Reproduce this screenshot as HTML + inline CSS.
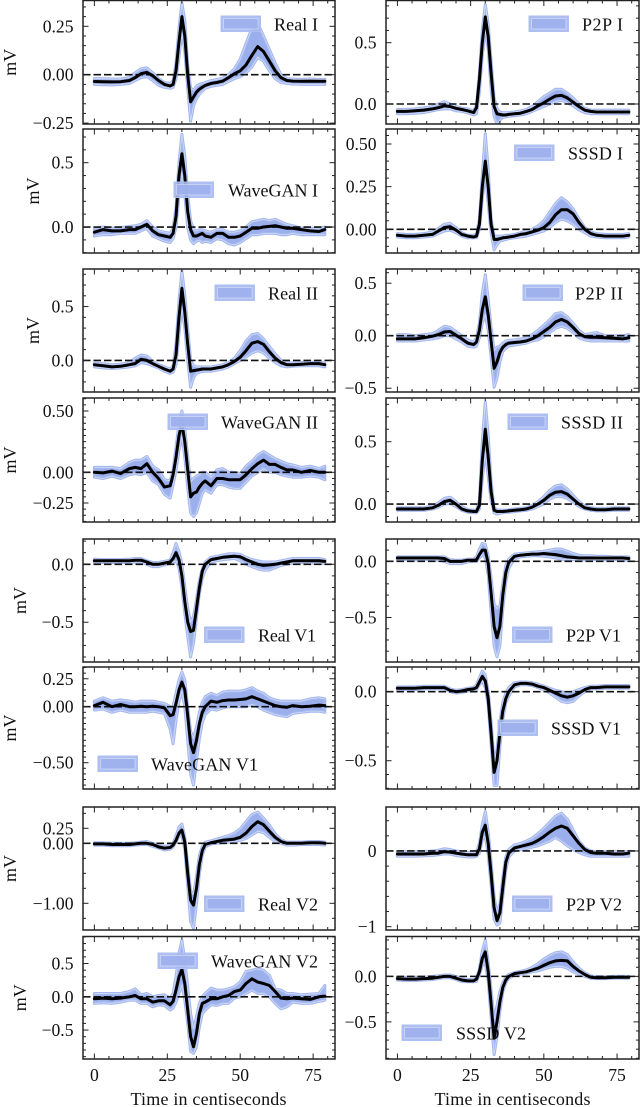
<!DOCTYPE html>
<html lang="en">
<head>
<meta charset="utf-8">
<title>ECG lead comparison</title>
<style>
html,body{margin:0;padding:0;background:#fff;width:640px;height:1107px;overflow:hidden}
svg{display:block}
text{font-family:"Liberation Serif",serif;fill:#111}
</style>
</head>
<body>
<svg id="figure" xmlns="http://www.w3.org/2000/svg" width="640" height="1107" viewBox="0 0 640 1107"></svg>
<script>
const times = [0,3,6,9,12,14,16,18,20,22,24,26,27,28,29,30,31,32,33,34,35,36,37,38,40,42,44,46,48,50,52,54,56,58,60,62,64,66,68,71,74,77,79];
const xTicks = [0,25,50,75];

const realIMean = [-.035,-.036,-.037,-.036,-.03,-.015,.005,.012,-.005,-.03,-.05,-.058,-.05,.02,.17,.30,.2,.0,-.14,-.115,-.09,-.075,-.065,-.055,-.045,-.04,-.033,-.015,.005,.02,.05,.10,.145,.12,.07,.02,-.015,-.03,-.033,-.034,-.033,-.034,-.034];
const realIUpper = [-.02,-.02,-.022,-.022,-.015,.01,.03,.035,.01,-.02,-.04,-.045,-.03,.06,.24,.37,.28,.05,-.07,-.08,-.06,-.05,-.045,-.04,-.03,-.025,-.018,.0,.03,.08,.16,.24,.265,.2,.13,.06,.0,-.02,-.022,-.024,-.022,-.024,-.024];
const realILower = [-.05,-.052,-.053,-.05,-.045,-.03,-.015,-.01,-.03,-.055,-.065,-.07,-.065,-.02,.09,.22,.12,-.07,-.24,-.16,-.125,-.1,-.085,-.07,-.06,-.055,-.05,-.035,-.02,-.01,.01,.04,.09,.07,.02,-.02,-.04,-.045,-.048,-.05,-.05,-.05,-.05];

const waveganIMean = [-.04,-.02,-.03,-.03,-.02,-.02,.0,.02,-.03,-.06,-.07,-.08,-.05,.08,.4,.57,.4,.12,-.02,-.07,-.07,-.06,-.05,-.07,-.08,-.05,-.05,-.08,-.08,-.07,-.04,-.01,-.01,.0,.005,.01,.0,-.01,-.01,-.02,-.03,-.035,-.02];
const waveganIUpper = [-.01,.0,-.01,-.005,.005,.01,.02,.05,.0,-.03,-.04,-.05,-.01,.15,.5,.72,.55,.25,.05,-.02,-.03,-.02,-.02,-.03,-.04,-.02,-.02,-.04,-.04,-.03,.0,.04,.05,.06,.05,.06,.04,.02,.01,-.01,-.01,-.01,.0];
const waveganILower = [-.07,-.06,-.06,-.05,-.05,-.05,-.03,-.01,-.07,-.09,-.11,-.12,-.09,.0,.25,.42,.25,.0,-.1,-.13,-.11,-.1,-.12,-.11,-.12,-.09,-.1,-.13,-.14,-.12,-.09,-.06,-.06,-.05,-.05,-.05,-.06,-.06,-.05,-.06,-.06,-.06,-.06];

const realIIMean = [-.04,-.05,-.06,-.055,-.04,-.03,.01,.0,-.03,-.055,-.08,-.1,-.08,.05,.4,.67,.45,.15,-.1,-.095,-.09,-.085,-.08,-.08,-.08,-.07,-.06,-.04,-.01,.03,.09,.16,.175,.15,.08,.02,-.02,-.04,-.04,-.035,-.03,-.03,-.04];
const realIIUpper = [-.025,-.03,-.04,-.035,-.02,.02,.05,.04,-.01,-.04,-.06,-.08,-.05,.15,.55,.83,.6,.3,.0,-.05,-.06,-.06,-.06,-.06,-.06,-.05,-.04,-.02,.02,.09,.18,.24,.25,.2,.13,.06,.0,-.02,-.025,-.02,-.015,-.02,-.025];
const realIILower = [-.06,-.07,-.075,-.07,-.06,-.05,-.02,-.03,-.05,-.07,-.1,-.12,-.11,-.04,.25,.5,.3,.0,-.25,-.16,-.12,-.11,-.105,-.1,-.1,-.09,-.08,-.06,-.03,.0,.03,.07,.09,.07,.02,-.02,-.05,-.06,-.055,-.05,-.05,-.05,-.06];

const waveganIIMean = [.0,-.005,.01,-.01,.03,.04,.03,.07,.0,-.05,-.12,-.11,-.02,.12,.3,.4,.25,.02,-.2,-.17,-.16,-.12,-.09,-.07,-.11,-.05,-.05,-.06,-.06,-.06,-.02,.03,.07,.1,.065,.065,.04,.02,.02,.0,.015,.0,.0];
const waveganIIUpper = [.04,.04,.04,.03,.08,.1,.1,.13,.05,.02,-.06,-.07,.02,.2,.4,.5,.35,.13,-.08,-.05,-.03,-.02,.0,.0,-.04,.02,.03,.0,.0,-.01,.05,.09,.14,.17,.14,.11,.09,.07,.06,.04,.05,.03,.05];
const waveganIILower = [-.04,-.05,-.03,-.05,-.02,-.01,-.02,.0,-.07,-.1,-.18,-.21,-.1,.02,.18,.3,.12,-.12,-.33,-.36,-.33,-.25,-.17,-.14,-.17,-.1,-.1,-.12,-.13,-.13,-.08,-.03,.0,.03,.0,.0,-.02,-.03,-.04,-.04,-.03,-.04,-.06];

const realV1Mean = [.03,.03,.03,.03,.03,.035,.035,.02,.0,.0,.01,.02,.05,.1,.04,-.1,-.32,-.5,-.58,-.57,-.38,-.2,-.06,.0,.04,.05,.06,.065,.07,.065,.04,.02,.0,-.01,-.005,.0,.01,.02,.03,.03,.03,.03,.025];
const realV1Upper = [.045,.04,.04,.04,.045,.05,.05,.03,.015,.015,.025,.035,.1,.18,.11,.0,-.2,-.38,-.5,-.45,-.3,-.14,-.04,.02,.06,.07,.08,.09,.09,.085,.06,.04,.03,.02,.02,.02,.03,.04,.05,.05,.05,.05,.04];
const realV1Lower = [.015,.015,.015,.015,.015,.02,.02,.0,-.02,-.02,-.005,.005,.02,.03,-.03,-.2,-.42,-.62,-.8,-.68,-.46,-.25,-.12,-.05,.02,.03,.04,.045,.05,.03,.0,-.02,-.04,-.05,-.05,-.03,-.01,.0,.01,.015,.01,.01,.01];

const waveganV1Mean = [.01,.04,.0,.02,.0,.0,.005,.0,.005,.0,-.01,-.08,-.07,.03,.15,.22,.15,-.08,-.33,-.41,-.3,-.15,-.05,.0,.05,.04,.055,.06,.06,.065,.07,.09,.07,.05,.03,.01,.0,-.005,.01,.0,.005,.015,.01];
const waveganV1Upper = [.05,.08,.05,.06,.05,.04,.05,.05,.05,.04,.03,.0,.0,.12,.24,.31,.24,.0,-.22,-.28,-.18,-.05,.04,.09,.12,.1,.13,.14,.14,.14,.15,.17,.14,.12,.08,.06,.05,.05,.05,.05,.07,.08,.07];
const waveganV1Lower = [-.03,-.02,-.05,-.03,-.05,-.05,-.05,-.05,-.04,-.05,-.06,-.2,-.33,-.12,.05,.14,.0,-.3,-.6,-.7,-.48,-.28,-.14,-.07,-.02,-.03,-.01,.0,.0,.0,.0,.02,.0,-.03,-.05,-.07,-.08,-.09,-.06,-.05,-.04,-.04,-.05];

const realV2Mean = [-.01,-.01,-.02,-.02,-.02,-.01,.0,.0,-.02,-.06,-.08,-.07,-.03,.05,.17,.22,.02,-.5,-.95,-1.03,-.75,-.35,-.12,-.02,.01,.03,.05,.06,.07,.1,.17,.28,.36,.31,.2,.1,.03,.0,.0,.0,.01,.01,.0];
const realV2Upper = [.01,.01,.0,.0,.0,.01,.02,.03,.0,-.04,-.05,-.04,.0,.12,.27,.32,.1,-.35,-.8,-.85,-.55,-.2,-.05,.02,.04,.07,.1,.13,.17,.24,.36,.48,.52,.42,.3,.16,.06,.02,.02,.02,.03,.03,.02];
const realV2Lower = [-.03,-.03,-.04,-.04,-.04,-.03,-.02,-.02,-.05,-.08,-.11,-.1,-.06,.02,.12,.12,-.1,-.7,-1.3,-1.42,-1.0,-.5,-.2,-.06,-.01,.0,.01,.02,.03,.05,.08,.14,.2,.18,.1,.03,.0,-.03,-.03,-.02,-.02,-.02,-.03];

const waveganV2Mean = [-.03,-.02,-.03,-.02,.0,.02,-.03,-.03,-.08,-.06,-.06,-.12,-.07,.1,.3,.41,.2,-.2,-.6,-.75,-.55,-.25,-.1,-.08,-.03,-.03,.0,.02,.08,.1,.2,.27,.22,.2,.17,.08,-.02,-.03,-.02,-.03,-.04,.0,.01];
const waveganV2Upper = [.05,.05,.05,.05,.08,.12,.03,.05,.0,.02,.03,-.02,.05,.3,.65,.85,.55,.15,-.25,-.48,-.3,-.1,.0,.05,.13,.1,.1,.12,.15,.22,.38,.4,.42,.4,.32,.12,.1,.05,.05,.03,.04,.05,.17];
const waveganV2Lower = [-.1,-.09,-.1,-.08,-.05,-.05,-.1,-.1,-.15,-.12,-.13,-.2,-.17,-.08,.05,.18,-.05,-.4,-.82,-.85,-.75,-.45,-.25,-.2,-.12,-.13,-.1,-.1,-.02,.0,.05,.1,.05,.05,.0,-.1,-.18,-.15,-.08,-.1,-.1,-.07,-.05];

const p2pIMean = [-.06,-.06,-.055,-.05,-.04,-.03,-.015,-.02,-.035,-.045,-.055,-.07,-.03,.2,.5,.71,.55,.25,-.02,-.08,-.085,-.09,-.09,-.085,-.08,-.075,-.06,-.045,-.015,.01,.04,.065,.07,.05,.015,-.02,-.05,-.06,-.065,-.065,-.065,-.065,-.065];
const p2pIUpper = [-.045,-.045,-.04,-.03,-.02,.0,.02,.0,-.02,-.035,-.04,-.055,-.01,.25,.6,.81,.65,.35,.05,-.04,-.065,-.07,-.07,-.07,-.065,-.055,-.045,-.02,.02,.06,.09,.12,.12,.09,.05,.0,-.035,-.05,-.05,-.05,-.05,-.05,-.05];
const p2pILower = [-.08,-.08,-.075,-.07,-.055,-.045,-.04,-.04,-.055,-.06,-.07,-.09,-.08,.1,.4,.6,.45,.12,-.1,-.16,-.13,-.11,-.105,-.1,-.095,-.09,-.08,-.06,-.04,-.02,.0,.02,.03,.01,-.015,-.05,-.07,-.08,-.08,-.08,-.08,-.08,-.08];

const sssdIMean = [-.035,-.04,-.04,-.035,-.03,-.01,.01,.015,-.005,-.03,-.04,-.045,-.04,.03,.25,.40,.25,.03,-.06,-.06,-.055,-.05,-.048,-.045,-.04,-.03,-.025,-.015,-.005,.01,.04,.085,.115,.115,.09,.04,.0,-.025,-.035,-.04,-.04,-.04,-.035];
const sssdIUpper = [-.025,-.03,-.03,-.025,-.015,.005,.03,.035,.01,-.02,-.035,-.035,-.03,.06,.32,.56,.35,.06,-.04,-.04,-.04,-.04,-.035,-.035,-.03,-.02,-.01,.0,.02,.05,.1,.15,.185,.16,.12,.06,.01,-.015,-.025,-.03,-.03,-.03,-.025];
const sssdILower = [-.045,-.05,-.05,-.045,-.04,-.025,-.01,-.005,-.02,-.04,-.05,-.05,-.05,.0,.18,.33,.15,-.02,-.12,-.09,-.07,-.065,-.06,-.055,-.05,-.045,-.04,-.03,-.02,-.01,.01,.04,.06,.05,.03,.0,-.02,-.04,-.045,-.05,-.05,-.05,-.045];

const p2pIIMean = [-.03,-.03,-.03,-.02,-.005,.01,.035,.04,.005,-.03,-.07,-.085,-.06,.05,.25,.37,.2,-.05,-.31,-.25,-.16,-.11,-.085,-.07,-.065,-.06,-.05,-.03,.0,.04,.08,.13,.155,.13,.08,.02,-.01,-.015,-.015,-.02,-.025,-.03,-.02];
const p2pIIUpper = [.01,.01,.0,.01,.02,.05,.09,.08,.04,.0,-.04,-.06,-.02,.12,.4,.58,.35,.08,-.14,-.11,-.1,-.07,-.05,-.045,-.04,-.03,-.02,.01,.05,.1,.15,.21,.22,.18,.12,.05,.01,.02,.03,.0,.0,.0,.01];
const p2pIILower = [-.05,-.05,-.05,-.04,-.03,-.02,.0,.0,-.03,-.06,-.1,-.11,-.1,-.02,.12,.2,.05,-.2,-.49,-.4,-.25,-.15,-.12,-.1,-.09,-.08,-.07,-.05,-.04,-.01,.03,.07,.09,.07,.03,-.02,-.04,-.05,-.05,-.05,-.05,-.05,-.05];

const sssdIIMean = [-.04,-.04,-.04,-.04,-.03,-.01,.02,.03,.0,-.04,-.055,-.06,-.06,-.01,.35,.6,.38,.1,-.05,-.06,-.06,-.06,-.058,-.055,-.05,-.045,-.04,-.025,.0,.03,.07,.095,.1,.08,.04,.0,-.03,-.04,-.045,-.045,-.04,-.04,-.04];
const sssdIIUpper = [-.03,-.03,-.03,-.03,-.015,.01,.045,.055,.02,-.02,-.045,-.05,-.05,.03,.5,.82,.55,.18,-.03,-.045,-.05,-.05,-.05,-.045,-.04,-.035,-.03,-.01,.02,.06,.11,.145,.155,.12,.07,.02,-.015,-.03,-.035,-.035,-.03,-.03,-.03];
const sssdIILower = [-.05,-.05,-.05,-.05,-.04,-.025,.0,.005,-.02,-.05,-.065,-.07,-.07,-.04,.2,.42,.22,.03,-.07,-.08,-.075,-.07,-.065,-.065,-.06,-.055,-.05,-.04,-.02,.0,.04,.06,.06,.045,.015,-.02,-.04,-.05,-.055,-.055,-.05,-.05,-.05];

const p2pV1Mean = [.03,.03,.03,.03,.03,.03,.025,.0,.0,.0,.01,.01,.015,.06,.1,.1,-.02,-.28,-.58,-.68,-.58,-.3,-.1,-.01,.045,.055,.06,.065,.065,.07,.065,.06,.05,.04,.035,.03,.03,.03,.03,.03,.03,.03,.025];
const p2pV1Upper = [.04,.04,.04,.04,.04,.04,.04,.015,.01,.01,.02,.02,.04,.11,.16,.15,.05,-.15,-.38,-.42,-.4,-.2,-.04,.02,.065,.07,.075,.08,.085,.09,.1,.11,.11,.09,.07,.055,.05,.05,.045,.045,.04,.04,.04];
const p2pV1Lower = [.015,.015,.015,.015,.015,.01,.0,-.02,-.02,-.02,-.005,.0,.0,.03,.06,.03,-.12,-.45,-.75,-.85,-.75,-.42,-.18,-.06,.02,.04,.045,.05,.05,.045,.04,.03,.02,.015,.015,.015,.015,.015,.015,.015,.015,.015,.01];

const sssdV1Mean = [.025,.025,.025,.03,.03,.03,.03,.01,.0,.005,.015,.02,.03,.07,.11,.08,-.05,-.3,-.585,-.5,-.3,-.14,-.05,.0,.05,.06,.06,.055,.04,.03,.01,-.01,-.03,-.04,-.03,-.01,.015,.03,.03,.035,.035,.035,.035];
const sssdV1Upper = [.035,.035,.035,.04,.04,.04,.04,.02,.01,.015,.025,.03,.05,.1,.15,.12,.0,-.22,-.5,-.42,-.22,-.08,-.01,.03,.065,.07,.07,.065,.055,.04,.025,.01,.0,-.01,.0,.015,.03,.04,.04,.045,.045,.045,.045];
const sssdV1Lower = [.015,.015,.015,.02,.02,.02,.02,.0,-.01,-.005,.005,.01,.015,.05,.08,.03,-.1,-.38,-.68,-.68,-.4,-.2,-.08,-.03,.035,.05,.05,.045,.03,.015,-.01,-.04,-.07,-.08,-.07,-.03,.0,.02,.02,.025,.025,.025,.025];

const p2pV2Mean = [-.04,-.04,-.04,-.04,-.03,-.03,-.01,-.015,-.03,-.04,-.05,-.05,-.05,.03,.25,.34,.1,-.3,-.75,-.92,-.82,-.48,-.15,-.03,.04,.06,.08,.1,.14,.19,.25,.3,.33,.3,.2,.1,.02,-.02,-.03,-.03,-.04,-.04,-.03];
const p2pV2Upper = [-.01,-.01,-.01,-.01,.0,.01,.03,.02,.0,-.01,-.02,-.02,-.01,.1,.35,.52,.25,-.15,-.6,-.82,-.7,-.35,-.08,.02,.08,.1,.13,.17,.23,.3,.38,.46,.5,.42,.28,.13,.04,.0,-.01,-.01,-.01,-.01,-.01];
const p2pV2Lower = [-.07,-.07,-.07,-.065,-.06,-.05,-.04,-.04,-.06,-.07,-.08,-.08,-.07,-.03,.15,.2,-.05,-.45,-.9,-.98,-.95,-.6,-.25,-.08,.0,.02,.03,.05,.07,.1,.13,.18,.13,.07,.02,-.02,-.05,-.07,-.07,-.07,-.07,-.07,-.07];

const sssdV2Mean = [-.025,-.03,-.03,-.025,-.02,-.01,.0,.0,-.02,-.04,-.05,-.05,-.03,.05,.2,.27,.05,-.3,-.68,-.5,-.28,-.12,-.04,.0,.03,.04,.05,.07,.09,.12,.15,.17,.175,.17,.11,.06,.02,-.01,-.015,-.015,-.01,-.01,-.01];
const sssdV2Upper = [-.01,-.01,-.01,-.01,.0,.005,.015,.015,.0,-.02,-.035,-.035,-.02,.08,.28,.4,.15,-.15,-.48,-.32,-.17,-.07,-.01,.02,.04,.055,.07,.1,.14,.19,.23,.26,.27,.24,.16,.09,.04,.005,-.005,-.005,.0,.0,.0];
const sssdV2Lower = [-.04,-.045,-.045,-.04,-.035,-.025,-.015,-.015,-.035,-.055,-.06,-.06,-.055,.02,.12,.15,-.05,-.45,-.86,-.66,-.38,-.17,-.07,-.02,.015,.025,.035,.05,.06,.08,.1,.11,.11,.09,.05,.025,.0,-.02,-.025,-.025,-.02,-.02,-.02];

const SVG_NS = 'http://www.w3.org/2000/svg';
const fig = document.getElementById('figure');
const xLim = [-3.9, 82.5];
const colLeft = [83, 386];
const colWidth = [252, 253];
const rowTop = [0.5, 129, 269, 398, 539, 667, 807, 936.5];
const rowBottom = [124, 253, 392, 522, 662, 789, 930, 1059];

const panels = [
  {label:'Real I',col:0,row:0,ymin:-.2546,ymax:.3833,ticks:[-.25,0,.25],dec:2,minor:.05,mean:realIMean,upper:realIUpper,lower:realILower,patch:[221,16],text:[274,44],unitX:10},
  {label:'WaveGAN I',col:0,row:1,ymin:-.202,ymax:.762,ticks:[0,.5],dec:1,minor:.1,mean:waveganIMean,upper:waveganIUpper,lower:waveganILower,patch:[174,182],text:[228,90],unitX:33},
  {label:'Real II',col:0,row:2,ymin:-.2935,ymax:.849,ticks:[0,.5],dec:1,minor:.1,mean:realIIMean,upper:realIIUpper,lower:realIILower,patch:[215,285],text:[268,50],unitX:33},
  {label:'WaveGAN II',col:0,row:3,ymin:-.405,ymax:.606,ticks:[-.25,0,.5],dec:2,minor:.05,mean:waveganIIMean,upper:waveganIIUpper,lower:waveganIILower,patch:[168,414],text:[221,97],unitX:10},
  {label:'Real V1',col:0,row:4,ymin:-.843,ymax:.218,ticks:[-.5,0],dec:1,minor:.1,mean:realV1Mean,upper:realV1Upper,lower:realV1Lower,patch:[204.5,627],text:[258,58],unitX:20},
  {label:'WaveGAN V1',col:0,row:5,ymin:-.735,ymax:.355,ticks:[-.5,0,.25],dec:2,minor:.05,mean:waveganV1Mean,upper:waveganV1Upper,lower:waveganV1Lower,patch:[98,756],text:[151,107],unitX:10},
  {label:'Real V2',col:0,row:6,ymin:-1.445,ymax:.605,ticks:[-1,0,.25],dec:2,minor:.25,mean:realV2Mean,upper:realV2Upper,lower:realV2Lower,patch:[204.5,896],text:[258,60],unitX:10},
  {label:'WaveGAN V2',col:0,row:7,ymin:-.935,ymax:.906,ticks:[-.5,0,.5],dec:1,minor:.1,mean:waveganV2Mean,upper:waveganV2Upper,lower:waveganV2Lower,patch:[158,953],text:[211,107],unitX:20},
  {label:'P2P I',col:1,row:0,ymin:-.163,ymax:.844,ticks:[0,.5],dec:1,minor:.1,mean:p2pIMean,upper:p2pIUpper,lower:p2pILower,patch:[529,16],text:[582,41]},
  {label:'SSSD I',col:1,row:1,ymin:-.139,ymax:.588,ticks:[0,.25,.5],dec:2,minor:.05,mean:sssdIMean,upper:sssdIUpper,lower:sssdILower,patch:[514.5,145],text:[568,55]},
  {label:'P2P II',col:1,row:2,ymin:-.536,ymax:.635,ticks:[-.5,0,.5],dec:1,minor:.1,mean:p2pIIMean,upper:p2pIIUpper,lower:p2pIILower,patch:[523,285],text:[575,48]},
  {label:'SSSD II',col:1,row:3,ymin:-.144,ymax:.851,ticks:[0,.5],dec:1,minor:.1,mean:sssdIIMean,upper:sssdIIUpper,lower:sssdIILower,patch:[508,414],text:[561,62]},
  {label:'P2P V1',col:1,row:4,ymin:-.896,ymax:.199,ticks:[-.5,0],dec:1,minor:.1,mean:p2pV1Mean,upper:p2pV1Upper,lower:p2pV1Lower,patch:[512.5,627],text:[566,55]},
  {label:'SSSD V1',col:1,row:5,ymin:-.705,ymax:.179,ticks:[-.5,0],dec:1,minor:.1,mean:sssdV1Mean,upper:sssdV1Upper,lower:sssdV1Lower,patch:[498,720],text:[551,70]},
  {label:'P2P V2',col:1,row:6,ymin:-1.044,ymax:.581,ticks:[-1,0],dec:0,minor:.2,mean:p2pV2Mean,upper:p2pV2Upper,lower:p2pV2Lower,patch:[512.5,896],text:[566,56]},
  {label:'SSSD V2',col:1,row:7,ymin:-.908,ymax:.438,ticks:[-.5,0],dec:1,minor:.1,mean:sssdV2Mean,upper:sssdV2Upper,lower:sssdV2Lower,patch:[402,1025],text:[456,70]}
];

function mk(tag, attrs, parent) {
  const n = document.createElementNS(SVG_NS, tag);
  for (const k in attrs) n.setAttribute(k, attrs[k]);
  parent.appendChild(n);
  return n;
}
function fmt(v, dec) {
  const s = Math.abs(v).toFixed(dec);
  return (v < -1e-9 ? '\u2212' : '') + s;
}
function slug(s) { return s.toLowerCase().replace(/\s+/g, '-'); }

panels.forEach(function (p, idx) {
  const left = colLeft[p.col], width = colWidth[p.col];
  const top = rowTop[p.row], bottom = rowBottom[p.row];
  const sx = function (v) { return left + (v - xLim[0]) / (xLim[1] - xLim[0]) * width; };
  const sy = function (v) { return top + (p.ymax - v) / (p.ymax - p.ymin) * (bottom - top); };
  const name = slug(p.label);

  const g = mk('g', {}, fig);
  
  

  const clip = mk('clipPath', {id: 'clip' + idx}, g);
  mk('rect', {x: left, y: top, width: width, height: bottom - top}, clip);

  const marks = mk('g', {'clip-path': 'url(#clip' + idx + ')'}, g);
  
  

  const upPts = times.map(function (t, i) { return sx(t).toFixed(1) + ',' + sy(p.upper[i]).toFixed(1); });
  const loPts = times.map(function (t, i) { return sx(t).toFixed(1) + ',' + sy(p.lower[i]).toFixed(1); });
  const band = mk('polygon', {points: upPts.concat(loPts.slice().reverse()).join(' '), fill: '#9bafec', stroke: '#a5b8ef', 'stroke-width': 3, 'stroke-linejoin': 'round'}, marks);
  
  

  const upLine = mk('polyline', {points: upPts.join(' '), fill: 'none', stroke: '#fff', 'stroke-opacity': .55, 'stroke-width': .7}, marks);
  
  
  const loLine = mk('polyline', {points: loPts.join(' '), fill: 'none', stroke: '#fff', 'stroke-opacity': .55, 'stroke-width': .7}, marks);
  
  

  const zero = mk('line', {x1: left, x2: left + width, y1: sy(0), y2: sy(0), stroke: '#111', 'stroke-width': 1.6, 'stroke-dasharray': '7.5 3'}, marks);
  
  

  const meanPts = times.map(function (t, i) { return sx(t).toFixed(1) + ',' + sy(p.mean[i]).toFixed(1); });
  const meanLine = mk('polyline', {points: meanPts.join(' '), fill: 'none', stroke: '#000', 'stroke-width': 3, 'stroke-linejoin': 'round', 'stroke-linecap': 'round'}, marks);
  
  

  // ticks
  const tk = mk('g', {stroke: '#222', 'stroke-width': 1}, g);
  
  
  for (let v = 0; v <= 80; v += 5) {
    const len = v % 25 === 0 ? 5.5 : 3;
    mk('line', {x1: sx(v), x2: sx(v), y1: top, y2: top + len}, tk);
    mk('line', {x1: sx(v), x2: sx(v), y1: bottom, y2: bottom - len}, tk);
  }
  const first = Math.ceil(p.ymin / p.minor - 1e-6), last = Math.floor(p.ymax / p.minor + 1e-6);
  for (let k = first; k <= last; k++) {
    const v = k * p.minor;
    const isMajor = p.ticks.some(function (t) { return Math.abs(t - v) < 1e-6; });
    const len = isMajor ? 5.5 : 3;
    mk('line', {x1: left, x2: left + len, y1: sy(v), y2: sy(v)}, tk);
    mk('line', {x1: left + width, x2: left + width - len, y1: sy(v), y2: sy(v)}, tk);
  }

  // y tick labels
  p.ticks.forEach(function (t) {
    const lab = mk('text', {x: left - 9.5, y: sy(t) + 6, 'text-anchor': 'end', 'font-size': 17.6}, g);
    lab.textContent = fmt(t, p.dec);
    
    
  });

  // y axis title
  if (p.unitX !== undefined) {
    const cy = (top + bottom) / 2;
    const yt = mk('text', {x: p.unitX, y: cy, 'text-anchor': 'middle', 'dominant-baseline': 'central', 'font-size': 18, transform: 'rotate(-90 ' + p.unitX + ' ' + cy + ')'}, g);
    yt.textContent = 'mV';
    
    
  }

  // spines
  const frame = mk('rect', {x: left, y: top, width: width, height: bottom - top, fill: 'none', stroke: '#222', 'stroke-width': 1.5}, g);
  
  

  // legend
  const lg = mk('g', {}, g);
  
  
  const px = p.patch[0], py = p.patch[1];
  const sw1 = mk('rect', {x: px, y: py, width: 39.5, height: 15.5, fill: '#a5b7ef', 'fill-opacity': .9, stroke: '#aebff1', 'stroke-width': 1}, lg);
  
  
  const sw2 = mk('rect', {x: px + 2.5, y: py + 2.5, width: 34.5, height: 10.5, fill: '#9db0ec', 'fill-opacity': .9, stroke: '#fff', 'stroke-opacity': .5, 'stroke-width': .7}, lg);
  
  
  const lt = mk('text', {x: p.text[0], y: py + 14.5, 'font-size': 18, textLength: p.text[1], lengthAdjust: 'spacing'}, lg);
  lt.textContent = p.label;
  
  

  // x axis labels on bottom row
  if (p.row === 7) {
    xTicks.forEach(function (t) {
      const xl = mk('text', {x: sx(t), y: 1081, 'text-anchor': 'middle', 'font-size': 17.6}, g);
      xl.textContent = String(t);
      
      
    });
    const xt = mk('text', {x: left + (p.col ? 126.5 : 125.5), y: 1105, 'text-anchor': 'middle', 'font-size': 18, textLength: 156, lengthAdjust: 'spacing'}, g);
    xt.textContent = 'Time in centiseconds';
    
    
  }
});
</script>
</body>
</html>
